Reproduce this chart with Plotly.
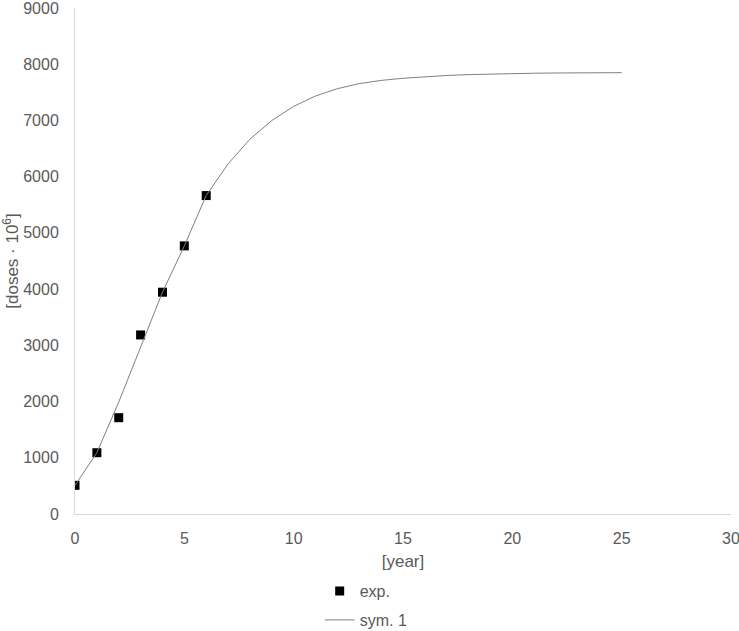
import plotly.graph_objects as go

exp_year = [0, 1, 2, 3, 4, 5, 6]
exp_doses = [510, 1090, 1713, 3185, 3945, 4769, 5664]

sim_year = list(range(0, 26))
sim_doses = [510, 1090, 1990, 2970, 3945, 4769, 5664, 6228, 6667, 6999, 7250,
             7435, 7565, 7655, 7712, 7750, 7778, 7800, 7815, 7826, 7834,
             7840, 7844, 7847, 7849, 7850]

grey = "#595959"
fig = go.Figure()
fig.add_trace(go.Scatter(x=exp_year, y=exp_doses, mode="markers", name="exp.",
                         legendgroup="a",
                         marker=dict(symbol="square", size=9, color="black")))
fig.add_trace(go.Scatter(x=sim_year, y=sim_doses, mode="lines", name="sym. 1",
                         legendgroup="b",
                         line=dict(color="#7f7f7f", width=1)))

fig.update_layout(
    width=739, height=631,
    margin=dict(l=74.5, r=8, t=8, b=117),
    plot_bgcolor="white", paper_bgcolor="white",
    font=dict(family="Liberation Sans, Arial", size=16, color=grey),
    showlegend=True,
    legend=dict(x=0.373, xanchor="left", yref="container", y=0.090, yanchor="top",
                orientation="v", font=dict(size=16, color=grey),
                tracegroupgap=5),
    xaxis=dict(range=[0, 30], dtick=5, showgrid=False, zeroline=False,
               showline=True, linecolor="#d9d9d9", linewidth=1,
               ticks="", ticklabelstandoff=10, automargin=False,
               ticklabeloverflow="allow",
               title=dict(text="[year]", standoff=8, font=dict(size=17))),
    yaxis=dict(range=[0, 9000], dtick=1000, showgrid=False, zeroline=False,
               showline=True, linecolor="#d9d9d9", linewidth=1,
               ticks="", ticklabelstandoff=12, automargin=False,
               ticklabeloverflow="allow",
               title=dict(text="[doses · 10<sup>6</sup>]", standoff=8, font=dict(size=17))),
)
fig.write_html("out.html")
